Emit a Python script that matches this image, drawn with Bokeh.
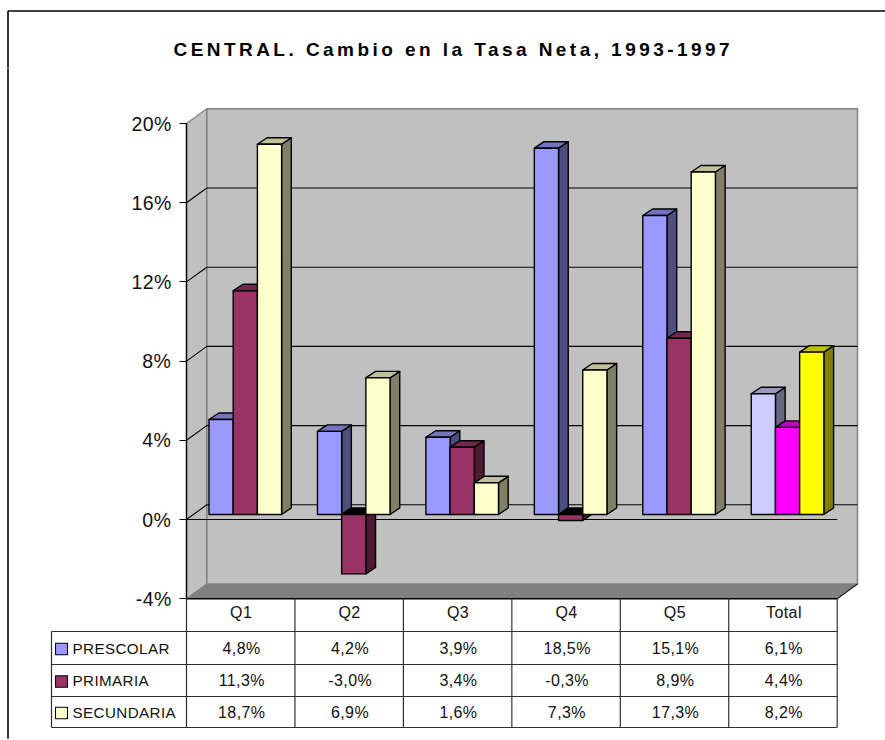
from bokeh.plotting import figure
from bokeh.layouts import column
from bokeh.models import Range1d, FixedTicker, LinearAxis
from bokeh.core.properties import value
from bokeh.embed import file_html
from bokeh.resources import INLINE

title_text = "CENTRAL. Cambio en la Tasa Neta, 1993-1997"
categories = ["Q1", "Q2", "Q3", "Q4", "Q5", "Total"]
series_names = ["PRESCOLAR", "PRIMARIA", "SECUNDARIA"]
prescolar = [4.8, 4.2, 3.9, 18.5, 15.1, 6.1]
primaria = [11.3, -3.0, 3.4, -0.3, 8.9, 4.4]
secundaria = [18.7, 6.9, 1.6, 7.3, 17.3, 8.2]
y_ticks = [-4, 0, 4, 8, 12, 16, 20]
y_tick_labels = ["-4%", "0%", "4%", "8%", "12%", "16%", "20%"]

front = ["#9999FF", "#993366", "#FFFFCC"]
side = ["#4D4D80", "#4D1A33", "#808066"]
top = ["#7373BF", "#732650", "#BFBF99"]
total_front = ["#CCCCFF", "#FF00FF", "#FFFF00"]
total_side = ["#666680", "#800080", "#808000"]
total_top = ["#9999BF", "#BF00BF", "#BFBF00"]

FONT = "Liberation Sans"
ORIGIN_X, ORIGIN_Y = 0, 0
W, H_TITLE, H_MAIN = 885, 68, 672
PX_CAT, PX_VAL = 108.45, 19.8
X0, Y0 = 186, 519        # picture pixel of (category 0, value 0) on the front plane


def cx(px):
    return (px - X0) / PX_CAT


def vy(px):
    return (Y0 - px) / PX_VAL


# depth of the walls and bars, in data units
wall_dx, wall_dy = 20.3 / PX_CAT, 14.7 / PX_VAL
bar_dx, bar_dy = 9.7 / PX_CAT, 6.5 / PX_VAL
bar_x0, bar_w, bar_base = 22.5 / PX_CAT, 24.2 / PX_CAT, 5 / PX_VAL
ncat = len(categories)
vmin, vmax = y_ticks[0], y_ticks[-1]

# ---------- title strip
pt = figure(width=W, height=H_TITLE, output_backend="svg", toolbar_location=None,
            x_range=Range1d(ORIGIN_X, ORIGIN_X + W), y_range=Range1d(ORIGIN_Y + H_TITLE, ORIGIN_Y),
            min_border=0, outline_line_color=None, x_axis_type=None, y_axis_type=None,
            styles={"letter-spacing": "3.45px"})
pt.grid.visible = False
pt.segment([7.5, 7.5], [10.5, 10.5], [W, 7.5], [10.5, H_TITLE + 5], line_color="black", line_width=1.6)
pt.text([173], [49], text=[title_text], text_font=value(FONT), text_font_size="19px",
        text_font_style="bold", text_align="left", text_baseline="middle", text_color="black")

# ---------- main figure
p = figure(width=W, height=H_MAIN, output_backend="svg", toolbar_location=None,
           x_range=Range1d(cx(ORIGIN_X), cx(ORIGIN_X + W)),
           y_range=Range1d(vy(ORIGIN_Y + H_TITLE + H_MAIN), vy(ORIGIN_Y + H_TITLE)),
           min_border=0, outline_line_color=None, x_axis_type=None, y_axis_type=None,
           styles={"letter-spacing": "0.4px"})
p.grid.visible = False

p.segment([cx(7.5)], [vy(H_TITLE - 5)], [cx(7.5)], [vy(738)], line_color="black", line_width=1.6)

# walls
p.patch([0, wall_dx, wall_dx, 0], [vmin, vmin + wall_dy, vmax + wall_dy, vmax],
        fill_color="#C0C0C0", line_color="#808080", line_width=1.2)
p.patch([wall_dx, ncat + wall_dx, ncat + wall_dx, wall_dx],
        [vmin + wall_dy, vmin + wall_dy, vmax + wall_dy, vmax + wall_dy],
        fill_color="#C0C0C0", line_color="#808080", line_width=1.5)
p.patch([0, wall_dx, ncat + wall_dx, ncat], [vmin, vmin + wall_dy, vmin + wall_dy, vmin],
        fill_color="#808080", line_color=None)
p.segment([ncat], [vmin], [ncat + wall_dx], [vmin + wall_dy], line_color="#202020", line_width=1.2)

# gridlines on the walls
inner = y_ticks[1:-1]
p.segment([0] * len(inner), inner, [wall_dx] * len(inner), [t + wall_dy for t in inner],
          line_color="black", line_width=1.1)
p.segment([wall_dx] * len(inner), [t + wall_dy for t in inner],
          [ncat + wall_dx] * len(inner), [t + wall_dy for t in inner],
          line_color="black", line_width=1.1)
p.segment([0], [0], [ncat], [0], line_color="black", line_width=1.2)

# bars
all_series = [prescolar, primaria, secundaria]
for s, vals in enumerate(all_series):
    xl = [i + bar_x0 + s * bar_w for i in range(ncat)]
    xr = [x + bar_w for x in xl]
    fc = [front[s]] * (ncat - 1) + [total_front[s]]
    sc = [side[s]] * (ncat - 1) + [total_side[s]]
    tc = [top[s]] * (ncat - 1) + [total_top[s]]
    tc = ["black" if v < 0 else c for v, c in zip(vals, tc)]
    hi = [max(v, 0) + bar_base for v in vals]
    lo = [min(v, 0) + bar_base for v in vals]
    kw = dict(line_color="black", line_width=1.4, line_join="round")
    p.patches([[r, r + bar_dx, r + bar_dx, r] for r in xr],
              [[l, l + bar_dy, h + bar_dy, h] for l, h in zip(lo, hi)], fill_color=sc, **kw)
    p.patches([[a, a + bar_dx, b + bar_dx, b] for a, b in zip(xl, xr)],
              [[h, h + bar_dy, h + bar_dy, h] for h in hi], fill_color=tc, **kw)
    p.quad(left=xl, right=xr, top=hi, bottom=lo, fill_color=fc, **kw)

# data table
row_px = [631, 664, 696, 727]
table_bottom = vy(row_px[-1])
tline = dict(line_color="#303030", line_width=1.2)
p.segment([cx(51)] * 4, [vy(r) for r in row_px], [ncat] * 4, [vy(r) for r in row_px], **tline)
p.segment([0], [vmin], [ncat], [vmin], line_color="black", line_width=1.4)
p.segment(list(range(ncat + 1)), [vmin] * (ncat + 1), list(range(ncat + 1)), [table_bottom] * (ncat + 1), **tline)
p.segment([cx(51)], [vy(row_px[0])], [cx(51)], [table_bottom], **tline)

row_mid = [vy((row_px[i] + row_px[i + 1]) / 2) for i in range(3)]
for s, vals in enumerate(all_series):
    labels = [f"{v:.1f}%".replace(".", ",") for v in vals]
    p.text([i + 0.5 for i in range(ncat)], [row_mid[s]] * ncat, text=labels,
           text_font=value(FONT), text_font_size="16px", text_align="center",
           text_baseline="middle", text_color="#111111")
    p.text([cx(72)], [row_mid[s]], text=[series_names[s]], text_font=value(FONT),
           text_font_size="15.2px", text_align="left", text_baseline="middle", text_color="#111111")
    sq = 5.8 / PX_VAL
    p.quad(left=[cx(55)], right=[cx(67)], top=[row_mid[s] - 1 / PX_VAL + sq], bottom=[row_mid[s] - 1 / PX_VAL - sq],
           fill_color=front[s], line_color="black", line_width=1.1)

# axes placed on the chart's own planes
ya = LinearAxis(fixed_location=0, bounds=(vmin, vmax), ticker=FixedTicker(ticks=y_ticks),
                major_label_overrides={t: l for t, l in zip(y_ticks, y_tick_labels)},
                major_tick_in=0, major_tick_out=7, minor_tick_line_color=None,
                major_tick_line_color="black", axis_line_color="black", axis_line_width=1.4,
                major_label_standoff=9, major_label_text_font=FONT,
                major_label_text_font_size="19.5px", major_label_text_color="#111111")
p.add_layout(ya, "left")
cat_ticks = [i + 0.5 for i in range(ncat)]
xa = LinearAxis(fixed_location=vmin, ticker=FixedTicker(ticks=cat_ticks),
                major_label_overrides={t: c for t, c in zip(cat_ticks, categories)},
                major_tick_in=0, major_tick_out=0, minor_tick_line_color=None,
                major_tick_line_color=None, axis_line_color=None,
                major_label_standoff=5, major_label_text_font=FONT,
                major_label_text_font_size="16px", major_label_text_color="#111111")
p.add_layout(xa, "below")

layout = column(pt, p, spacing=0)
open("out.html", "w").write(file_html(layout, INLINE))
